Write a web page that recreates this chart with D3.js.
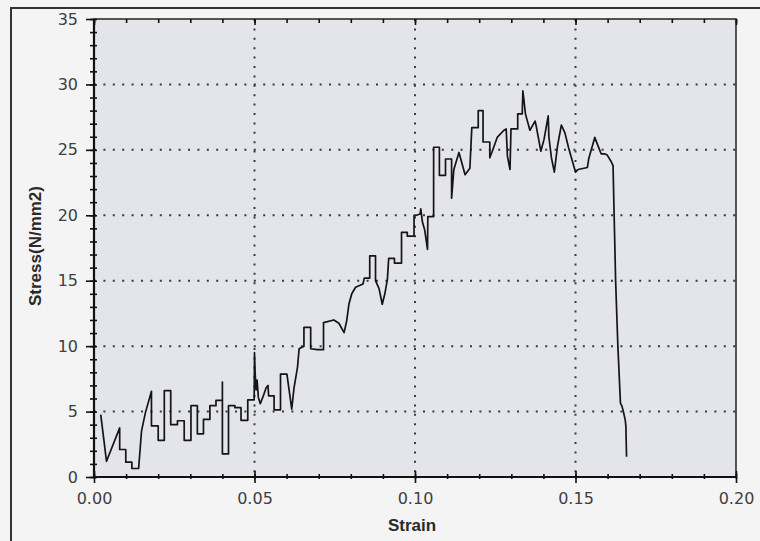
<!DOCTYPE html>
<html>
<head>
<meta charset="utf-8">
<script src="https://cdn.jsdelivr.net/npm/d3@7"></script>
<style>
  body { margin: 0; background: #f3f3f3; }
  svg { display: block; }
</style>
</head>
<body>
<div id="chart"></div>
<script>
// strain / stress readings, step-like record from the tensile test
const strain = [
  0.0021, 0.0039, 0.0080, 0.0080, 0.0099, 0.0099, 0.0118, 0.0118, 0.0139, 0.0148,
  0.0160, 0.0179, 0.0179, 0.0200, 0.0200, 0.0219, 0.0219, 0.0239, 0.0239, 0.0260,
  0.0260, 0.0281, 0.0281, 0.0302, 0.0302, 0.0322, 0.0322, 0.0341, 0.0341, 0.0361,
  0.0361, 0.0380, 0.0380, 0.0400, 0.0400, 0.0400, 0.0419, 0.0419, 0.0439, 0.0439,
  0.0458, 0.0458, 0.0479, 0.0479, 0.0499, 0.0500, 0.0502, 0.0505, 0.0508, 0.0512,
  0.0518, 0.0526, 0.0536, 0.0542, 0.0544, 0.0561, 0.0561, 0.0581, 0.0581, 0.0601,
  0.0616, 0.0623, 0.0634, 0.0639, 0.0654, 0.0654, 0.0675, 0.0675, 0.0696, 0.0715,
  0.0715, 0.0747, 0.0763, 0.0779, 0.0787, 0.0794, 0.0803, 0.0815, 0.0838, 0.0842,
  0.0859, 0.0859, 0.0877, 0.0877, 0.0888, 0.0898, 0.0906, 0.0914, 0.0918, 0.0936,
  0.0936, 0.0958, 0.0958, 0.0976, 0.0976, 0.0997, 0.0997, 0.1016, 0.1018, 0.1023,
  0.1030, 0.1039, 0.1040, 0.1058, 0.1058, 0.1076, 0.1076, 0.1095, 0.1095, 0.1114,
  0.1114, 0.1121, 0.1137, 0.1156, 0.1171, 0.1177, 0.1197, 0.1197, 0.1212, 0.1212,
  0.1233, 0.1233, 0.1243, 0.1256, 0.1277, 0.1284, 0.1288, 0.1296, 0.1299, 0.1320,
  0.1320, 0.1334, 0.1336, 0.1339, 0.1344, 0.1358, 0.1374, 0.1377, 0.1392, 0.1402,
  0.1415, 0.1417, 0.1425, 0.1434, 0.1444, 0.1456, 0.1467, 0.1478, 0.1493, 0.1500,
  0.1508, 0.1537, 0.1541, 0.1560, 0.1575, 0.1580, 0.1590, 0.1599, 0.1610, 0.1617,
  0.1619, 0.1625, 0.1632, 0.1640, 0.1645, 0.1649, 0.1655, 0.1657, 0.1659
];
const stress = [
  4.77, 1.2, 3.75, 2.1, 2.1, 1.13, 1.13, 0.65, 0.65, 3.5,
  4.9, 6.55, 3.9, 3.9, 2.8, 2.8, 6.6, 6.6, 4.0, 4.0,
  4.3, 4.3, 2.8, 2.8, 5.45, 5.45, 3.3, 3.3, 4.4, 4.4,
  5.45, 5.45, 5.86, 5.86, 7.26, 1.76, 1.76, 5.45, 5.45, 5.3,
  5.3, 4.33, 4.33, 5.9, 5.9, 9.5, 7.9, 6.65, 7.4, 6.1,
  5.6, 6.1, 6.8, 7.0, 6.2, 6.2, 5.13, 5.13, 7.86, 7.86,
  5.18, 6.8, 8.4, 9.8, 10.0, 11.44, 11.44, 9.8, 9.73, 9.73,
  11.8, 12.0, 11.75, 11.03, 11.9, 13.2, 14.0, 14.5, 14.75, 15.2,
  15.2, 16.9, 16.9, 15.0, 14.4, 13.2, 14.0, 15.1, 16.7, 16.7,
  16.35, 16.35, 18.7, 18.7, 18.4, 18.4, 19.95, 20.1, 20.5, 19.5,
  18.9, 17.4, 19.9, 19.9, 25.2, 25.2, 23.05, 23.05, 24.3, 24.3,
  21.3, 23.5, 24.8, 23.1, 23.6, 26.7, 26.7, 28.0, 28.0, 25.6,
  25.6, 24.4, 25.05, 25.95, 26.5, 26.6, 24.5, 23.5, 26.6, 26.6,
  27.75, 27.75, 29.5, 28.9, 27.75, 26.5, 27.2, 26.9, 24.9, 25.8,
  27.6, 26.0, 24.4, 23.3, 25.3, 26.9, 26.3, 25.2, 23.9, 23.3,
  23.5, 23.65, 24.3, 25.95, 25.0, 24.7, 24.7, 24.6, 24.15, 23.8,
  21.5, 15, 10, 5.65, 5.4, 5.0, 4.35, 3.85, 1.55
];

const xMajor = [0, 0.05, 0.10, 0.15, 0.20];
const xMinor = d3.range(0, 21).map(i => i / 100);
const yMajor = [0, 5, 10, 15, 20, 25, 30, 35];
const yMinor = d3.range(0, 36);
const xTitle = "Strain";
const yTitle = "Stress(N/mm2)";

const W = 760, H = 541;
const margin = {top: 19, right: 24, bottom: 64, left: 94};
const pw = W - margin.left - margin.right;
const ph = H - margin.top - margin.bottom;

const svg = d3.select("#chart").append("svg")
  .attr("width", W)
  .attr("height", H);

svg.append("rect")
  .attr("width", W).attr("height", H)
  .attr("fill", "#f4f4f4");

// outer frame (right/bottom edges fall outside the shot)
svg.append("rect")
  .attr("x", 11).attr("y", 8)
  .attr("width", W + 20).attr("height", H + 20)
  .attr("fill", "none")
  .attr("stroke", "#333")
  .attr("stroke-width", 2);

const g = svg.append("g")
  .attr("transform", `translate(${margin.left},${margin.top})`);

const x = d3.scaleLinear().domain([0, 0.20]).range([0, pw]);
const y = d3.scaleLinear().domain([0, 35]).range([ph, 0]);

g.append("rect")
  .attr("width", pw).attr("height", ph)
  .attr("fill", "#e4e4eb");

// dotted grid
g.selectAll(".hgrid")
  .data(yMajor.filter(d => d > 0 && d < 35))
  .enter().append("line")
    .attr("x1", 0).attr("x2", pw)
    .attr("y1", d => y(d)).attr("y2", d => y(d))
    .style("stroke", "#3a3a3a")
    .style("stroke-width", 2)
    .style("stroke-dasharray", "2,7.4");

g.selectAll(".vgrid")
  .data(xMajor.filter(d => d > 0 && d < 0.20))
  .enter().append("line")
    .attr("x1", d => x(d)).attr("x2", d => x(d))
    .attr("y1", 0).attr("y2", ph)
    .style("stroke", "#3a3a3a")
    .style("stroke-width", 2)
    .style("stroke-dasharray", "2,7.4");

// data line
const pts = strain.map((s, i) => [s, stress[i]]);
g.append("path")
  .datum(pts)
  .attr("fill", "none")
  .attr("stroke", "#151515")
  .attr("stroke-width", 1.7)
  .attr("stroke-linejoin", "round")
  .attr("d", d3.line().x(d => x(d[0])).y(d => y(d[1])));

// frame of plot area
g.append("rect")
  .attr("width", pw).attr("height", ph)
  .attr("fill", "none")
  .attr("stroke", "#222")
  .attr("stroke-width", 1.5);

function styleAxis(sel) {
  sel.select(".domain").remove();
  sel.selectAll("line").attr("stroke", "#111").attr("stroke-width", 1.6);
  sel.selectAll("text")
    .attr("fill", "#404040")
    .style("font-family", "'DejaVu Sans', sans-serif")
    .style("font-size", "16px");
}

// left axis: ticks cross the axis line
g.append("g").call(d3.axisLeft(y).tickValues(yMinor).tickSize(4).tickFormat("")).call(styleAxis);
g.append("g").call(d3.axisRight(y).tickValues(yMinor).tickSize(3).tickFormat("")).call(styleAxis);
g.append("g").call(d3.axisLeft(y).tickValues(yMajor).tickSize(8).tickPadding(8).tickFormat(d3.format("d"))).call(styleAxis);

// bottom axis
const bottom = g.append("g").attr("transform", `translate(0,${ph})`);
bottom.append("g").call(d3.axisBottom(x).tickValues(xMinor).tickSize(2).tickFormat("")).call(styleAxis);
bottom.append("g").call(d3.axisTop(x).tickValues(xMinor).tickSize(3).tickFormat("")).call(styleAxis);
bottom.append("g").call(d3.axisBottom(x).tickValues(xMajor).tickSize(6).tickPadding(10).tickFormat(d3.format(".2f"))).call(styleAxis);
bottom.append("g").call(d3.axisTop(x).tickValues(xMajor).tickSize(6).tickFormat("")).call(styleAxis);

// top axis: inward ticks only
g.append("g").call(d3.axisBottom(x).tickValues(xMinor).tickSize(4).tickFormat("")).call(styleAxis);
g.append("g").call(d3.axisBottom(x).tickValues(xMajor).tickSize(6).tickFormat("")).call(styleAxis);

// axis lines, heavier on left and bottom
g.append("line").attr("x1", 0).attr("x2", 0).attr("y1", 0).attr("y2", ph)
  .attr("stroke", "#111").attr("stroke-width", 2.2);
g.append("line").attr("x1", 0).attr("x2", pw).attr("y1", ph).attr("y2", ph)
  .attr("stroke", "#111").attr("stroke-width", 2.2);

svg.append("text")
  .attr("x", 412)
  .attr("y", 531)
  .attr("text-anchor", "middle")
  .style("font-family", "'Liberation Sans', Arial, sans-serif")
  .style("font-size", "17px")
  .style("font-weight", "bold")
  .attr("fill", "#2a2a2a")
  .text(xTitle);

svg.append("text")
  .attr("transform", "translate(41,246) rotate(-90)")
  .attr("text-anchor", "middle")
  .style("font-family", "'Liberation Sans', Arial, sans-serif")
  .style("font-size", "17px")
  .style("font-weight", "bold")
  .attr("fill", "#2a2a2a")
  .text(yTitle);
</script>
</body>
</html>
